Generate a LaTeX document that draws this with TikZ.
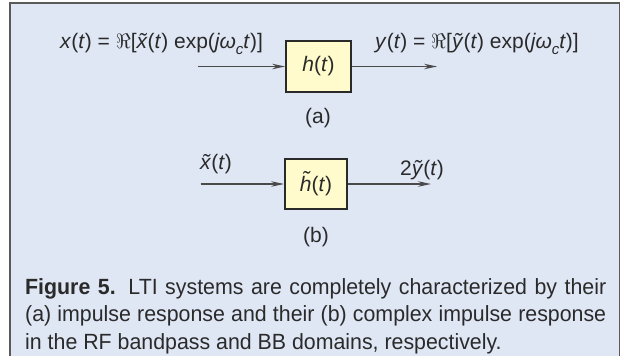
\documentclass[tikz,border=0pt]{standalone}
\usepackage{fontspec}
\setmainfont{Liberation Sans}
\newfontfamily\capfont{Liberation Sans}[FakeStretch=0.97]
\usetikzlibrary{arrows.meta}
\definecolor{panelbg}{HTML}{DFE6F4}
\definecolor{boxfill}{HTML}{FFFBCC}
\definecolor{inkdark}{HTML}{2A2A2A}
\definecolor{linegray}{HTML}{4A4A4A}
\definecolor{framegray}{HTML}{5A5A5A}
% subscript c for the carrier frequency
\newcommand\carrsub{\raisebox{-0.3em}{\fontsize{15}{15}\selectfont\textit{c}}}
% italic letter with a tilde set above it; optional argument lifts the tilde
\newcommand\tildeover[2][0pt]{\leavevmode\setbox0\hbox{\textit{#2}}%
  \rlap{\hbox to\wd0{\hss\kern0.08em\raisebox{#1}{\textit{\char"02DC}}\hss}}\box0}
% one caption line spread to the full column width
\newcommand\capline[1]{\hbox to 581pt{#1}}
\begin{document}
\begin{tikzpicture}[x=1pt,y=-1pt,
  sysbox/.style={draw=inkdark,line width=1.8pt,fill=boxfill,inner sep=0pt,
    minimum width=65pt,minimum height=51pt,font=\fontsize{21}{25}\selectfont,text=inkdark},
  signal/.style={draw=linegray,line width=1.2pt,-{Stealth[length=13pt,width=5.5pt]}},
  lbl/.style={inner sep=0pt,font=\fontsize{21}{25}\selectfont,text=inkdark},
  captext/.style={inner sep=0pt,anchor=base west,font=\capfont\fontsize{22}{28}\selectfont,text=inkdark},
]
\useasboundingbox (0,0) rectangle (621,356);
% panel with an open bottom edge
\fill[panelbg] (10,3) rectangle (619.5,356);
\draw[framegray,line width=1.5pt] (10,356) -- (10,3) -- (619.5,3) -- (619.5,356);

% (a) RF bandpass system
\node[lbl,anchor=base west] (xa) at (60,48)
  {\textit{x}(\textit{t}) = $\Re$[\tildeover{x}(\textit{t}) exp(\textit{jω}\carrsub\textit{t})]};
\node[lbl,anchor=base west] (ya) at (375,48)
  {\textit{y}(\textit{t}) = $\Re$[\textit{ỹ}(\textit{t}) exp(\textit{jω}\carrsub\textit{t})]};
\node[sysbox] (ha) at (318.5,66.5) {\textit{h}(\textit{t})};
\coordinate (ina) at (198,66.5);
\coordinate (outa) at (437,66.5);
\draw[signal] (ina) -- (ha.west);
\draw[signal] (ha.east) -- (outa);
\node[lbl] (taga) at (318,118) {(a)};

% (b) complex baseband system
\node[lbl,anchor=base west] (xb) at (200,169) {\tildeover{x}(\textit{t})};
\node[lbl,anchor=base west] (yb) at (400,175) {2\textit{ỹ}(\textit{t})};
\node[sysbox,minimum width=62pt,minimum height=50pt] (hb) at (316,184)
  {\tildeover[0.24em]{h}(\textit{t})};
\coordinate (inb) at (200.7,184);
\coordinate (outb) at (431,184);
\draw[signal] (inb) -- (hb.west);
\draw[signal] (hb.east) -- (outb);
\node[lbl] (tagb) at (316,237) {(b)};

% caption
\node[captext] (cap1) at (25,294)
  {\capline{\textbf{Figure 5.} LTI systems are completely characterized by their}};
\node[captext] (cap2) at (25,321.5)
  {\capline{(a) impulse response and their (b) complex impulse response}};
\node[captext] (cap3) at (25,349) {in the RF bandpass and BB domains, respectively.};
\end{tikzpicture}
\end{document}
